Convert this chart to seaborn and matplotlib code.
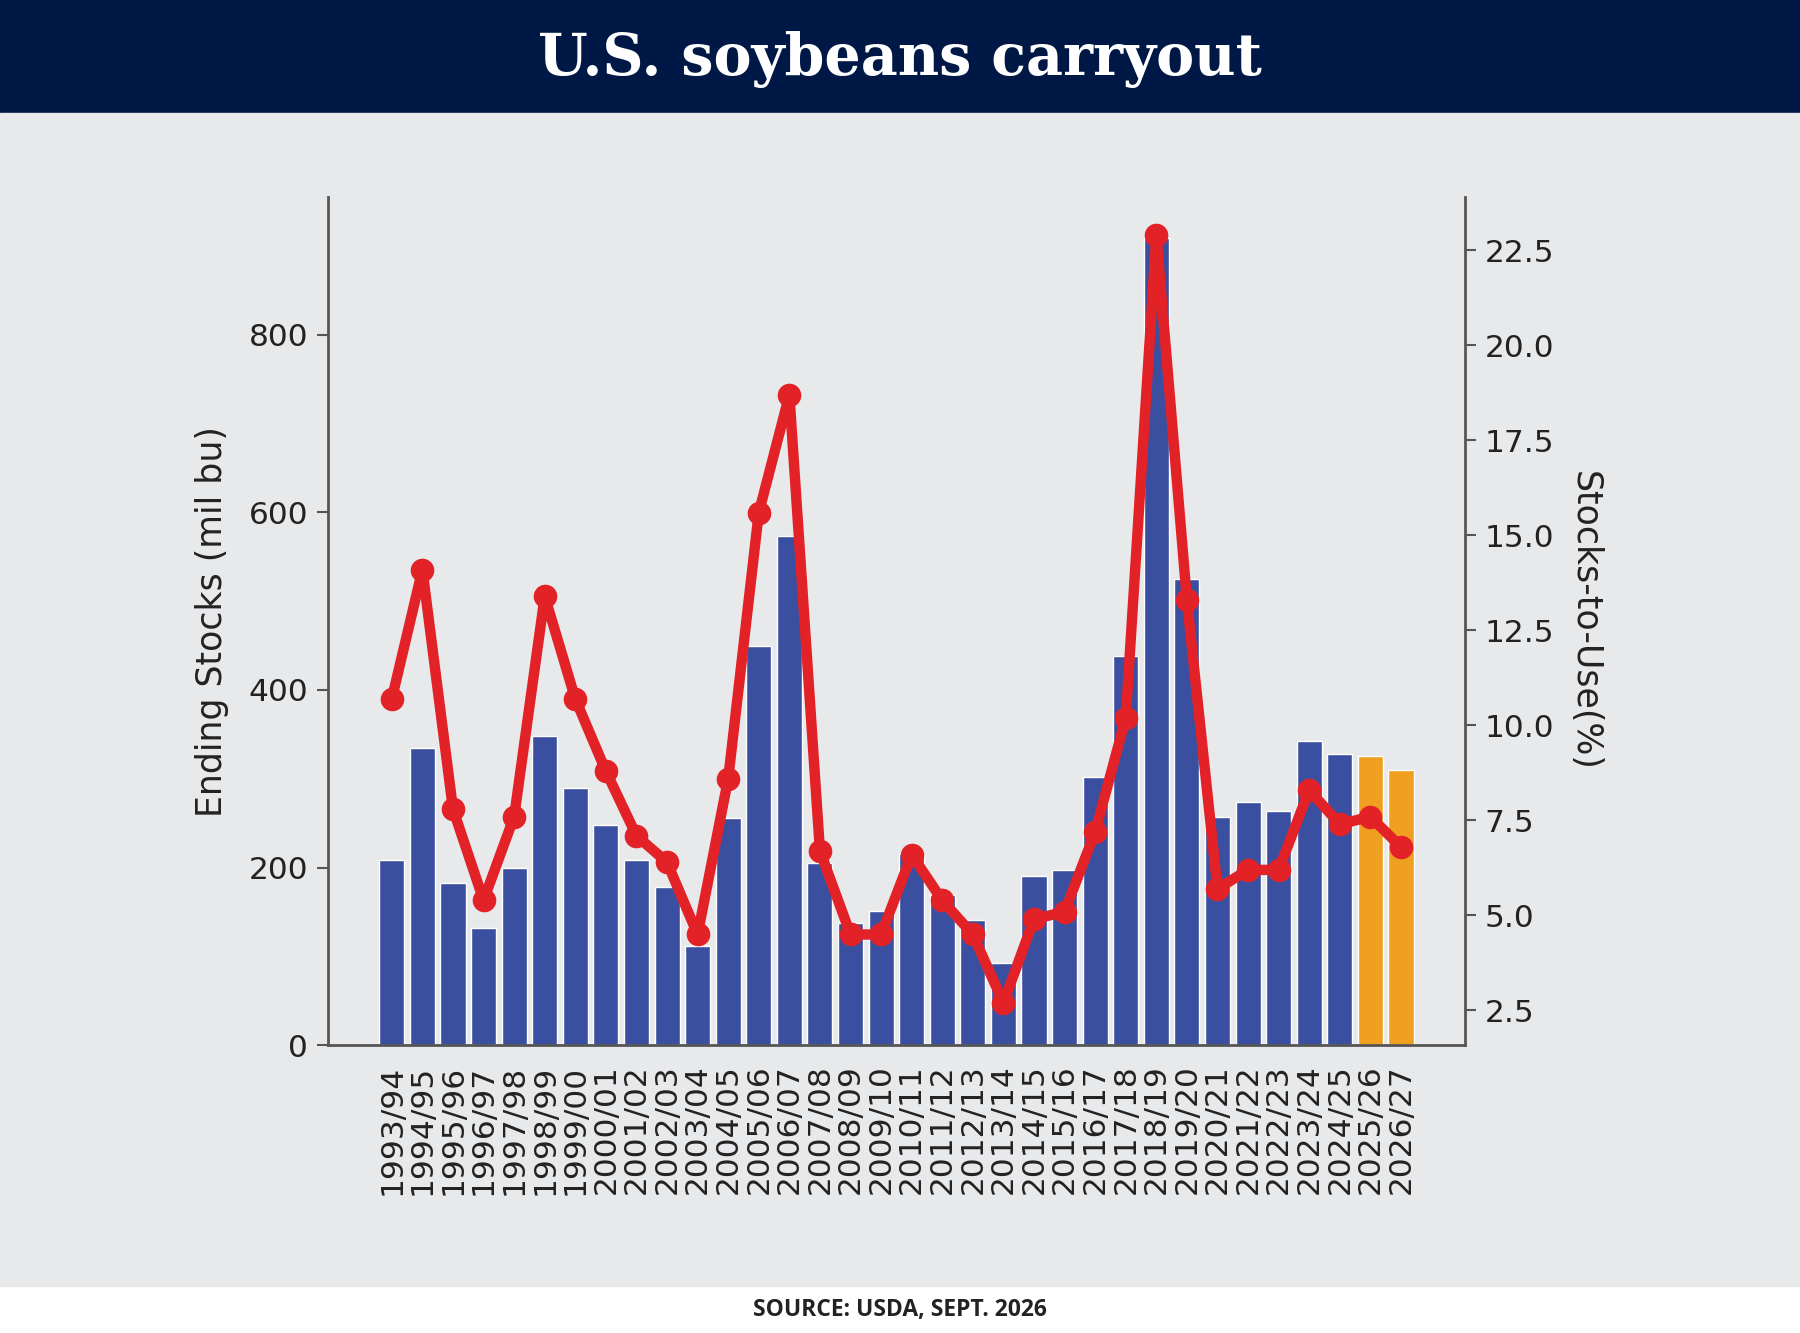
import numpy as np
import pandas as pd
import seaborn as sns
import matplotlib.pyplot as plt

# marketing years, ending stocks (mil bu) and stocks-to-use (%)
years = ['1993/94', '1994/95', '1995/96', '1996/97', '1997/98', '1998/99',
         '1999/00', '2000/01', '2001/02', '2002/03', '2003/04', '2004/05',
         '2005/06', '2006/07', '2007/08', '2008/09', '2009/10', '2010/11',
         '2011/12', '2012/13', '2013/14', '2014/15', '2015/16', '2016/17',
         '2017/18', '2018/19', '2019/20', '2020/21', '2021/22', '2022/23',
         '2023/24', '2024/25', '2025/26', '2026/27']
ending_stocks = [209, 335, 183, 132, 200, 348, 290, 248, 208, 178, 112, 256,
                 449, 574, 205, 138, 151, 215, 169, 141, 92, 191, 197, 302,
                 438, 909, 525, 257, 274, 264, 342, 328, 326, 310]
stocks_to_use = [10.7, 14.1, 7.8, 5.4, 7.6, 13.4, 10.7, 8.8, 7.1, 6.4, 4.5, 8.6,
                 15.6, 18.7, 6.7, 4.5, 4.5, 6.6, 5.4, 4.5, 2.7, 4.9, 5.1, 7.2,
                 10.2, 22.9, 13.3, 5.7, 6.2, 6.2, 8.3, 7.4, 7.6, 6.8]
projected = ['2025/26', '2026/27']

df = pd.DataFrame({'year': years, 'stocks': ending_stocks, 'stu': stocks_to_use})
df['pos'] = np.arange(len(df))
df['kind'] = np.where(df['year'].isin(projected), 'proj', 'actual')

BG = '#E8E9EB'
NAVY = '#001845'
BLUE = '#3B4FA0'
ORANGE = '#EFA021'
RED = '#E32228'
AXIS = '#555555'

sns.set_style('white')
plt.rcParams['font.family'] = ['DejaVu Sans']

fig = plt.figure(figsize=(18, 13.33), dpi=100)
fig.patch.set_facecolor('white')

# header band and grey panel, behind everything
fig.patches.append(plt.Rectangle((0, 1 - 113 / 1333), 1, 113 / 1333,
                                 transform=fig.transFigure, color=NAVY, zorder=-10))
fig.patches.append(plt.Rectangle((0, 1 - 1286 / 1333), 1, (1286 - 113) / 1333,
                                 transform=fig.transFigure, color=BG, zorder=-10))
fig.text(0.5, 1 - 60 / 1333, 'U.S. soybeans carryout', ha='center', va='center',
         color='white', fontsize=41, fontweight='bold', family='DejaVu Serif')
fig.text(0.5, 1 - 1310 / 1333, 'SOURCE: USDA, SEPT. 2026', ha='center', va='center',
         color='#222222', fontsize=16.5, fontweight='bold', family='Open Sans')

ax = fig.add_axes([0.182, 0.216, 0.632, 0.636])
ax.set_facecolor(BG)

sns.barplot(data=df, x='year', y='stocks', hue='kind',
            palette={'actual': BLUE, 'proj': ORANGE}, dodge=False, saturation=1,
            width=0.82, legend=False, ax=ax, zorder=2)
ax.set_xlim(-2.1, 35.1)
ax.set_ylim(0, 955)
ax.set_yticks([0, 200, 400, 600, 800])
ax.set_xlabel('')
ax.set_ylabel('Ending Stocks (mil bu)', fontsize=25, color='#222222', labelpad=14)
ax.tick_params(axis='x', labelrotation=90, labelsize=22.5, length=8, width=1.5,
               colors=AXIS, labelcolor='#222222', pad=6)
ax.tick_params(axis='y', labelsize=22.5, length=8, width=1.5,
               colors=AXIS, labelcolor='#222222', pad=6)

ax2 = ax.twinx()
sns.lineplot(data=df, x='pos', y='stu', color=RED, linewidth=7.5, marker='o',
             markersize=17, markeredgewidth=0, ax=ax2, zorder=3)
ax2.set_ylim(1.59, 23.9)
ax2.set_yticks([2.5, 5.0, 7.5, 10.0, 12.5, 15.0, 17.5, 20.0, 22.5])
ax2.set_xlim(-2.1, 35.1)
ax2.set_ylabel('Stocks-to-Use(%)', fontsize=25, color='#222222',
               rotation=270, labelpad=34)
ax2.set_xlabel('')
ax2.tick_params(axis='y', labelsize=22.5, length=8, width=1.5,
                colors=AXIS, labelcolor='#222222', pad=6)

for a in (ax, ax2):
    a.spines['top'].set_visible(False)
    for s in ('left', 'right', 'bottom'):
        a.spines[s].set_color(AXIS)
        a.spines[s].set_linewidth(2)
ax.spines['right'].set_visible(False)
ax2.spines['left'].set_visible(False)
ax2.spines['bottom'].set_visible(False)

fig.savefig('out.png', dpi=100, facecolor=fig.get_facecolor())
